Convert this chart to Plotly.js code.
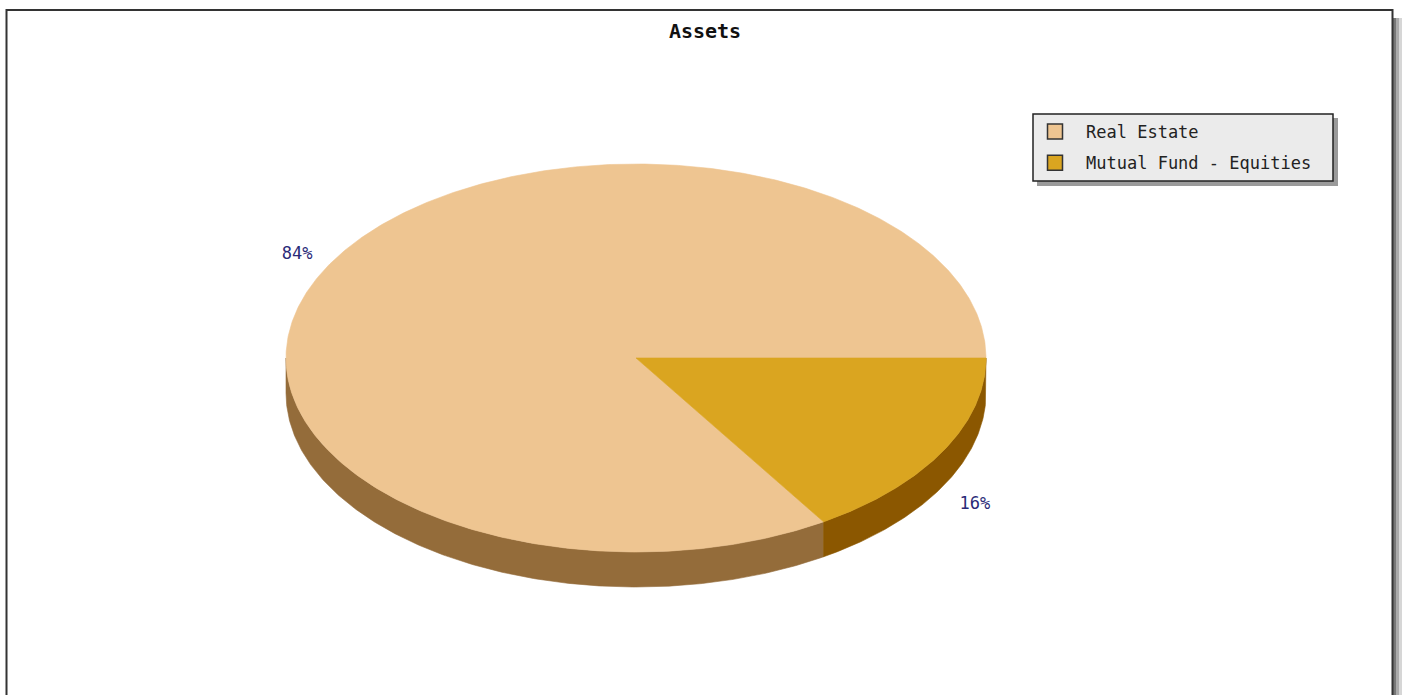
<!DOCTYPE html>
<html><head><meta charset="utf-8">
<script src="https://cdn.plot.ly/plotly-3.0.1.min.js"></script>
<style>html,body{margin:0;padding:0;background:#fff;} #chart{width:1403px;height:695px;}</style>
</head><body><div id="chart"></div>
<script>
// ---- data ----
const categories = ['Real Estate', 'Mutual Fund - Equities'];
const values = [84, 16];
const pctLabels = ['84%', '16%'];
const topColors = ['#EEC591', '#DAA520'];
const sideColors = ['#946C3A', '#8B5700'];

// ---- geometry (layout constants) ----
const W = 1403, H = 695;
const cx = 636, cy = 358, rx = 350, ry = 194, depth = 35;
const total = values.reduce((a, b) => a + b, 0);

function pt(deg, dy) {
  const r = deg * Math.PI / 180;
  return [cx + rx * Math.cos(r), cy - ry * Math.sin(r) + (dy || 0)];
}
function arc(a0, a1, dy) {
  const pts = [];
  const n = Math.max(2, Math.ceil(Math.abs(a1 - a0) * 2));
  for (let i = 0; i <= n; i++) pts.push(pt(a0 + (a1 - a0) * i / n, dy));
  return pts;
}

let start = 0;
const slices = values.map((v, i) => {
  const a0 = start, a1 = start + v / total * 360;
  start = a1;
  return { a0, a1, i };
});

const traces = [];
// side walls (front half only)
slices.forEach(s => {
  const lo = Math.max(s.a0, 180), hi = Math.min(s.a1, 360);
  if (hi > lo) {
    const top = arc(lo, hi, 0), bot = arc(hi, lo, depth);
    const p = top.concat(bot); p.push(top[0]);
    traces.push({
      type: 'scatter', mode: 'lines', x: p.map(q => q[0]), y: p.map(q => q[1]),
      fill: 'toself', fillcolor: sideColors[s.i], line: { width: 0.6, color: sideColors[s.i] },
      hoverinfo: 'skip', showlegend: false
    });
  }
});
// top faces
slices.forEach(s => {
  const p = [[cx, cy]].concat(arc(s.a0, s.a1, 0)); p.push([cx, cy]);
  traces.push({
    type: 'scatter', mode: 'lines', x: p.map(q => q[0]), y: p.map(q => q[1]),
    fill: 'toself', fillcolor: topColors[s.i], line: { width: 0.6, color: topColors[s.i] },
    hoverinfo: 'skip', showlegend: false
  });
});
// percentage labels
const lx = [], ly = [];
slices.forEach(s => {
  const mid = (s.a0 + s.a1) / 2;
  const p = pt(mid, 0);
  const f = 1.105;
  const x = cx + (p[0] - cx) * f;
  let y = cy + (p[1] - cy) * f;
  if (Math.sin(mid * Math.PI / 180) < 0) y += depth * 1.25;
  lx.push(x); ly.push(y);
});
traces.push({
  type: 'scatter', mode: 'text', x: lx, y: ly, text: pctLabels,
  textfont: { family: 'DejaVu Sans Mono', size: 17, color: '#2a2a78' },
  textposition: 'middle center', hoverinfo: 'skip', showlegend: false
});
// legend entries
categories.forEach((c, i) => {
  traces.push({
    type: 'scatter', mode: 'markers', x: [null], y: [null], name: c,
    legendgroup: 'g' + i,
    marker: { symbol: 'square', size: 15, color: topColors[i], line: { color: '#333', width: 1.5 } }
  });
});

const shapes = [
  // frame shadow
  { type: 'rect', xref: 'x', yref: 'y', x0: 1393, x1: 1396, y0: 18, y1: 700, fillcolor: '#777', line: { width: 0 }, layer: 'below' },
  { type: 'rect', xref: 'x', yref: 'y', x0: 1396, x1: 1399, y0: 18, y1: 700, fillcolor: '#aaa', line: { width: 0 }, layer: 'below' },
  { type: 'rect', xref: 'x', yref: 'y', x0: 1399, x1: 1402, y0: 18, y1: 700, fillcolor: '#d6d6d6', line: { width: 0 }, layer: 'below' },
  // frame
  { type: 'rect', xref: 'x', yref: 'y', x0: 6.5, x1: 1392.5, y0: 10, y1: 705, line: { color: '#333', width: 2 }, fillcolor: 'rgba(0,0,0,0)' },
  // legend shadow + box
  { type: 'rect', xref: 'x', yref: 'y', x0: 1037, x1: 1338, y0: 118, y1: 186, fillcolor: '#9a9a9a', line: { width: 0 }, layer: 'below' },
  { type: 'rect', xref: 'x', yref: 'y', x0: 1033, x1: 1333, y0: 114, y1: 181, fillcolor: '#ebebeb', line: { color: '#222', width: 1.5 }, layer: 'below' }
];

const layout = {
  width: W, height: H,
  margin: { l: 0, r: 0, t: 0, b: 0, pad: 0 },
  paper_bgcolor: '#fff', plot_bgcolor: '#fff',
  title: {
    text: 'Assets', x: 705 / W, xref: 'paper', xanchor: 'center',
    y: 1 - 31 / H, yref: 'container', yanchor: 'middle',
    font: { family: 'DejaVu Sans Mono', size: 20, weight: 'bold', color: '#111' }
  },
  xaxis: { range: [0, W], visible: false, fixedrange: true },
  yaxis: { range: [H, 0], visible: false, fixedrange: true },
  showlegend: true,
  legend: {
    x: 1024 / W, y: 1 - 114 / H, xanchor: 'left', yanchor: 'top',
    bgcolor: 'rgba(0,0,0,0)', borderwidth: 0, itemwidth: 52,
    tracegroupgap: 6, traceorder: 'grouped',
    font: { family: 'DejaVu Sans Mono', size: 17, color: '#222' }
  },
  shapes: shapes
};

Plotly.newPlot('chart', traces, layout, { displayModeBar: false, staticPlot: true });
</script>
</body></html>
